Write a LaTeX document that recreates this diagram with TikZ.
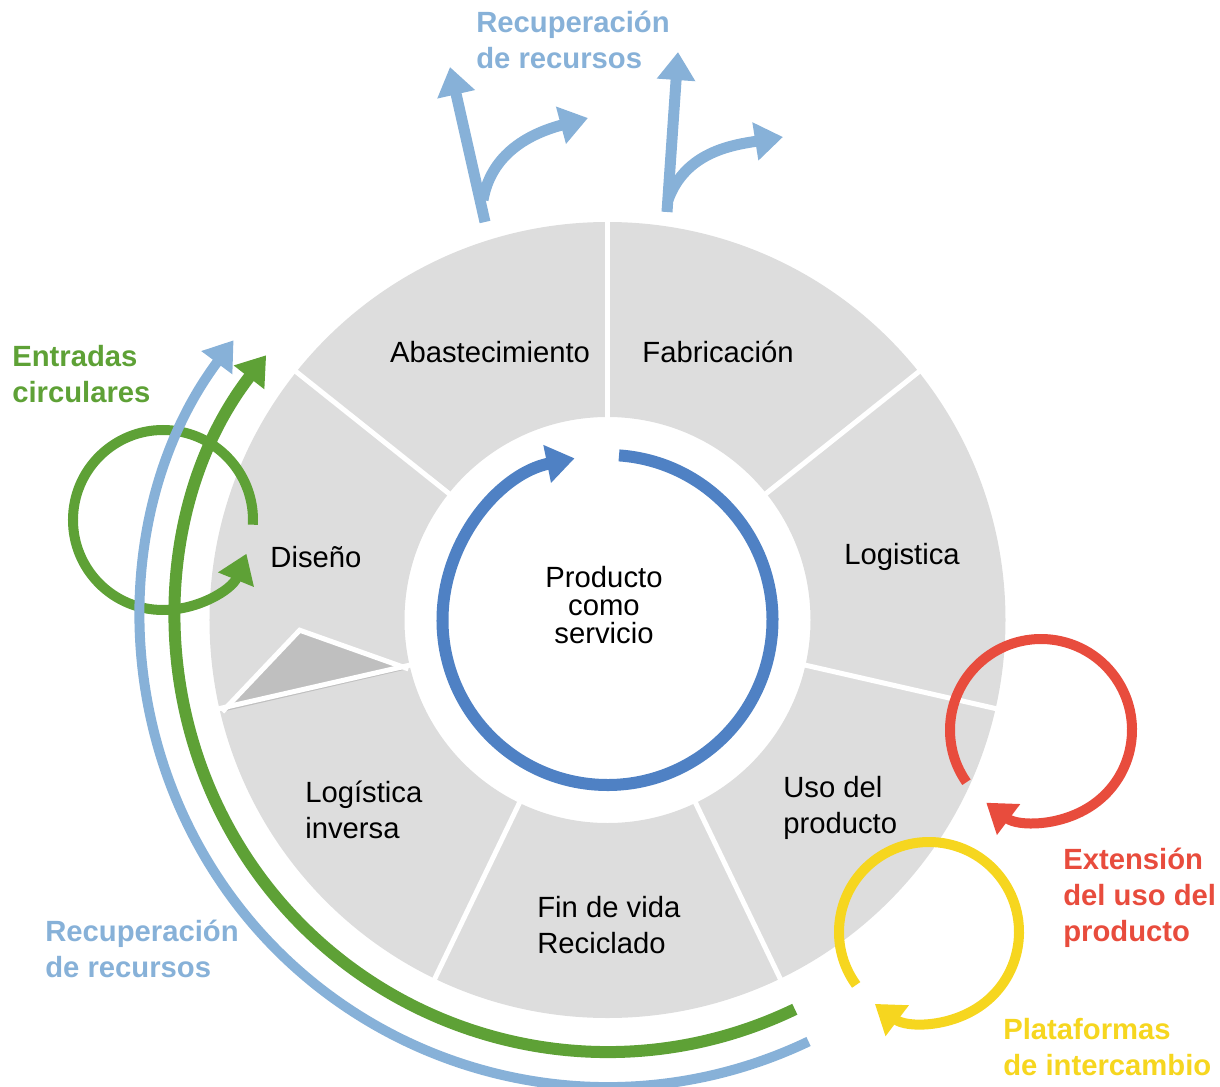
\documentclass[tikz,border=0pt]{standalone}
\usepackage{fontspec}
\setmainfont{Liberation Sans}
\usetikzlibrary{arrows.meta}
\definecolor{ringgray}{HTML}{DDDDDD}
\definecolor{wedgegray}{HTML}{BFBFBF}
\definecolor{lblue}{HTML}{87B1D8}
\definecolor{cgreen}{HTML}{5EA136}
\definecolor{cred}{HTML}{E84C3D}
\definecolor{cyellow}{HTML}{F6D61F}
\definecolor{cblue}{HTML}{4F81C4}
\tikzset{
  stage/.style={font=\fontsize{20.8}{25.6}\selectfont, align=left, inner sep=0pt},
  tag/.style={font=\bfseries\fontsize{20.8}{25.6}\selectfont, align=left, anchor=west, inner sep=0pt},
  tip/.style={-{Triangle[width=0.92cm,length=0.7cm]}},
  loopline/.style={line width=0.25cm, tip},
}
\begin{document}
\begin{tikzpicture}[x=0.025cm,y=0.025cm]
  \useasboundingbox (-607.5,-466) rectangle (612.5,620);
  % ring of stages
  \fill[ringgray,even odd rule] (0,0) circle[radius=398] (0,0) circle[radius=203];
  \fill[wedgegray] (-166.2:205) -- (-178.1:308) -- (-166.6:396) -- cycle;
  \draw[white,line width=0.125cm] (-166.2:205) -- (-178.1:308) -- (-166.6:396);
  \foreach \k in {0,...,6}
    \draw[white,line width=0.125cm] ({90-\k*360/7}:200) -- ({90-\k*360/7}:402);

  \node[stage] (abas) at (-117.5,268) {Abastecimiento};
  \node[stage] (fabr) at (110.5,268) {Fabricación};
  \node[stage] (logi) at (294.5,63) {Logistica};
  \node[stage] (dise) at (-291.5,63) {Diseño};
  \node[stage,anchor=west] (uso) at (175.5,-188) {Uso del\\producto};
  \node[stage,anchor=west] (fin) at (-70.5,-305) {Fin de vida\\Reciclado};
  \node[stage,anchor=west] (inv) at (-302.5,-190) {Logística\\inversa};
  \node[stage,align=center,font=\fontsize{20.8}{19.9}\selectfont] (pcs) at (-3.5,15) {Producto\\como\\servicio};

  % inner cycle
  \draw[cblue,line width=0.3cm,tip] (86:165) arc[start angle=86,end angle=-258.5,radius=165];

  % loops
  \coordinate (dcen) at (-444.5,100);
  \coordinate (ucen) at (433.5,-110);
  \coordinate (pcen) at (321.5,-312);
  \draw[cgreen,loopline,shift={(dcen)}] (-3:90) arc[start angle=-3,end angle=338,radius=90];
  \draw[cred,loopline,shift={(ucen)}] (215:91) arc[start angle=215,end angle=-127,radius=91];
  \draw[cyellow,loopline,shift={(pcen)}] (216:90) arc[start angle=216,end angle=-127,radius=90];

  % big return arcs
  \draw[cgreen,line width=0.3cm,tip] (-64.3:432) arc[start angle=-64.3,end angle=-217.8,radius=432];
  \draw[lblue,line width=0.25cm,tip] (-64.5:467) arc[start angle=-64.5,end angle=-216.8,radius=467];

  % top arrows
  \coordinate (s1) at (-122.5,398);
  \coordinate (t1) at (-157.5,553);
  \coordinate (b1) at (-124.5,420);
  \coordinate (e1) at (-19.5,502);
  \coordinate (s2) at (59.5,408);
  \coordinate (t2) at (70.5,568);
  \coordinate (b2) at (60.5,420);
  \coordinate (e2) at (175.5,483);
  \begin{scope}[lblue,line width=0.275cm,tip]
    \draw (s1) -- (t1);
    \draw (b1) to[out=80,in=195] (e1);
    \draw (s2) -- (t2);
    \draw (b2) to[out=70,in=189] (e2);
  \end{scope}

  \node[tag,text=lblue] (rectop) at (-131.5,580) {Recuperación\\de recursos};
  \node[tag,text=cgreen] (entr) at (-595.5,246) {Entradas\\circulares};
  \node[tag,text=lblue] (recbot) at (-562.5,-329) {Recuperación\\de recursos};
  \node[tag,text=cred] (ext) at (455.5,-278) {Extensión\\del uso del\\producto};
  \node[tag,text=cyellow] (plat) at (395.5,-427) {Plataformas\\de intercambio};
\end{tikzpicture}
\end{document}
